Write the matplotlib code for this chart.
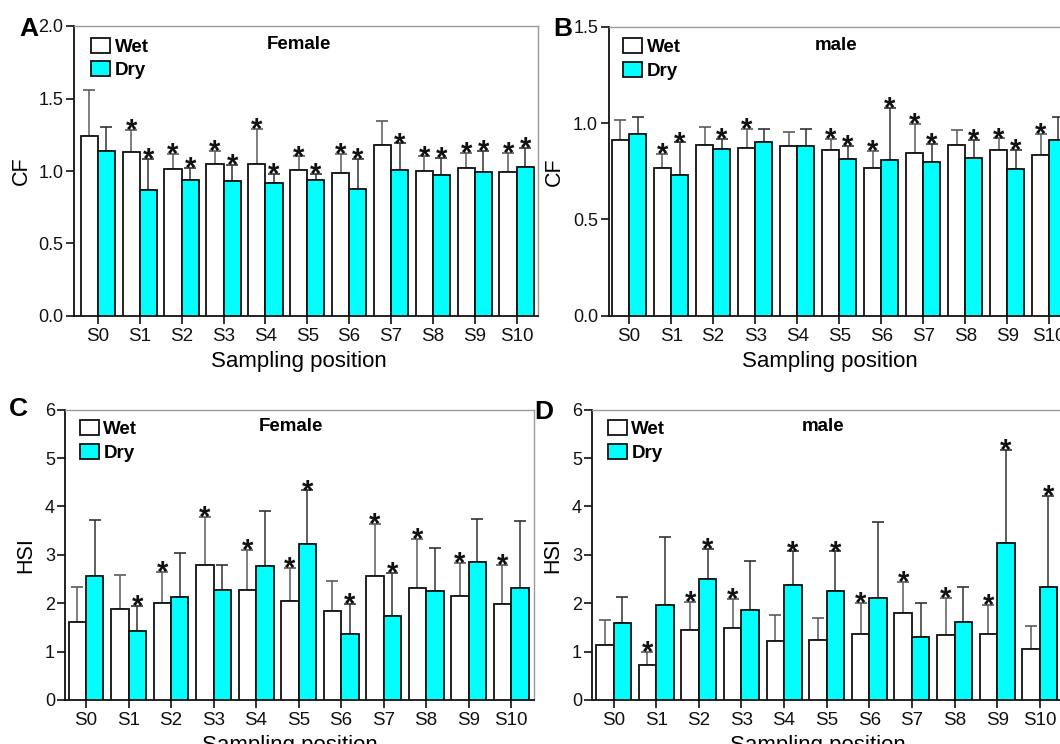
import numpy as np
import matplotlib
matplotlib.use("Agg")
import matplotlib.pyplot as plt

plt.rcParams['font.family'] = ['Liberation Sans', 'DejaVu Sans']

positions = ["S0", "S1", "S2", "S3", "S4", "S5", "S6", "S7", "S8", "S9", "S10"]

# Panel A: CF, female
cf_f_wet = [1.24, 1.13, 1.015, 1.05, 1.05, 1.005, 0.985, 1.18, 1.00, 1.02, 0.996]
cf_f_wet_top = [1.56, 1.28, 1.12, 1.14, 1.29, 1.10, 1.12, 1.345, 1.10, 1.125, 1.125]
cf_f_dry = [1.14, 0.87, 0.94, 0.93, 0.915, 0.937, 0.875, 1.01, 0.97, 0.995, 1.025]
cf_f_dry_top = [1.30, 1.08, 1.02, 1.04, 0.98, 0.98, 1.08, 1.19, 1.09, 1.14, 1.16]
cf_f_wet_sig = [0, 1, 1, 1, 1, 1, 1, 0, 1, 1, 1]
cf_f_dry_sig = [0, 1, 1, 1, 1, 1, 1, 1, 1, 1, 1]

# Panel B: CF, male
cf_m_wet = [0.913, 0.765, 0.885, 0.872, 0.883, 0.86, 0.769, 0.845, 0.886, 0.858, 0.833]
cf_m_wet_top = [1.018, 0.838, 0.981, 0.967, 0.951, 0.917, 0.854, 0.993, 0.965, 0.92, 0.942]
cf_m_dry = [0.943, 0.733, 0.865, 0.904, 0.883, 0.815, 0.808, 0.797, 0.819, 0.762, 0.913]
cf_m_dry_top = [1.03, 0.899, 0.918, 0.967, 0.967, 0.879, 1.079, 0.892, 0.913, 0.86, 1.03]
cf_m_wet_sig = [0, 1, 0, 1, 0, 1, 1, 1, 0, 1, 1]
cf_m_dry_sig = [0, 1, 1, 0, 0, 1, 1, 1, 1, 1, 0]

# Panel C: HSI, female
hsi_f_wet = [1.616, 1.89, 2.0, 2.79, 2.27, 2.04, 1.84, 2.57, 2.31, 2.15, 1.99]
hsi_f_wet_top = [2.33, 2.58, 2.64, 3.79, 3.10, 2.73, 2.46, 3.64, 3.32, 2.84, 2.79]
hsi_f_dry = [2.56, 1.42, 2.12, 2.28, 2.77, 3.23, 1.37, 1.74, 2.25, 2.85, 2.31]
hsi_f_dry_top = [3.71, 1.95, 3.03, 2.79, 3.91, 4.33, 1.98, 2.62, 3.14, 3.74, 3.69]
hsi_f_wet_sig = [0, 0, 1, 1, 1, 1, 0, 1, 1, 1, 1]
hsi_f_dry_sig = [0, 1, 0, 0, 0, 1, 1, 1, 0, 0, 0]

# Panel D: HSI, male
hsi_m_wet = [1.146, 0.72, 1.44, 1.48, 1.21, 1.23, 1.37, 1.79, 1.35, 1.36, 1.05]
hsi_m_wet_top = [1.65, 1.0, 2.03, 2.08, 1.76, 1.70, 2.0, 2.43, 2.10, 1.97, 1.52]
hsi_m_dry = [1.59, 1.97, 2.50, 1.85, 2.38, 2.26, 2.11, 1.30, 1.62, 3.24, 2.34]
hsi_m_dry_top = [2.12, 3.37, 3.13, 2.87, 3.07, 3.07, 3.67, 2.0, 2.33, 5.16, 4.21]
hsi_m_wet_sig = [0, 1, 1, 1, 0, 0, 1, 1, 1, 1, 0]
hsi_m_dry_sig = [0, 0, 1, 0, 1, 1, 0, 0, 0, 1, 1]

W, H = 1060, 744
fig = plt.figure(figsize=(W / 100, H / 100), dpi=100)


def px_axes(left, right, top, bottom):
    return fig.add_axes([left / W, (H - bottom) / H, (right - left) / W, (bottom - top) / H])


DRY = '#00FFFF'
BW = 0.41


def panel(ax, wet, wet_top, dry, dry_top, wet_sig, dry_sig, ylim, yticks, yfmt,
          ylabel, title, xlim, ylab_x, xlab_x, xlab_y, leg_xy, title_xy):
    x = np.arange(len(positions))
    xw = x - BW / 2
    xd = x + BW / 2
    wet = np.array(wet); dry = np.array(dry)
    wet_top = np.array(wet_top); dry_top = np.array(dry_top)
    bw = ax.bar(xw, wet, BW, color='white', edgecolor='#111111', linewidth=1.3,
                zorder=3, label='Wet')
    bd = ax.bar(xd, dry, BW, color=DRY, edgecolor='#111111', linewidth=1.3,
                zorder=3, label='Dry')
    for xs, m, t, c in ((xw, wet, wet_top, '#5a5a5a'), (xd, dry, dry_top, '#333333')):
        ax.errorbar(xs, m, yerr=[np.zeros_like(m), t - m], fmt='none',
                    ecolor=c, elinewidth=1.1, capsize=4.6, capthick=1.2,
                    zorder=2)
    for xs, t, sig in ((xw, wet_top, wet_sig), (xd, dry_top, dry_sig)):
        for xi, ti, s in zip(xs, t, sig):
            if s:
                ax.annotate('*', xy=(xi, ti), xytext=(0, -6.5), textcoords='offset points',
                            ha='center', va='baseline', fontsize=21, fontweight='bold',
                            color='#111111', zorder=4)
    ax.set_xlim(*xlim)
    ax.set_ylim(*ylim)
    ax.set_yticks(yticks)
    ax.set_yticklabels([yfmt.format(v) for v in yticks], fontsize=13)
    ax.set_xticks(x)
    ax.set_xticklabels(positions, fontsize=13.5)
    ax.tick_params(axis='y', direction='out', length=6, width=1.2, pad=1.5, colors='#111111')
    ax.tick_params(axis='x', direction='out', length=6, width=1.2, pad=2.5, colors='#111111')
    for s in ('left', 'bottom'):
        ax.spines[s].set_color('#111111')
        ax.spines[s].set_linewidth(1.3)
    for s in ('top', 'right'):
        ax.spines[s].set_color('#999999')
        ax.spines[s].set_linewidth(1.0)
    ax.set_ylabel(ylabel, fontsize=15.5, va='center')
    ax.yaxis.set_label_coords(ylab_x, 0.5)
    ax.set_xlabel('Sampling position', fontsize=16, va='center')
    ax.xaxis.set_label_coords(xlab_x, xlab_y)
    ax.legend(handles=[bw, bd], loc='upper left', bbox_to_anchor=leg_xy,
              frameon=False, borderpad=0, borderaxespad=0,
              handlelength=1.0, handleheight=0.85, handletextpad=0.25,
              labelspacing=0.3, prop={'size': 13.5, 'weight': 'bold'})
    ax.text(title_xy[0], title_xy[1], title, transform=ax.transAxes, ha='center',
            va='center', fontsize=13.5, fontweight='bold')


# A
axA = px_axes(74, 538, 26, 316)
panel(axA, cf_f_wet, cf_f_wet_top, cf_f_dry, cf_f_dry_top, cf_f_wet_sig, cf_f_dry_sig,
      (0, 2.0), [0, 0.5, 1.0, 1.5, 2.0], '{:.1f}', 'CF', 'Female', (-0.57, 10.51),
      -0.114, 0.485, -0.157, (0.037, 0.96), (0.485, 0.935))
# B
axB = px_axes(608.5, 608.5 + 466, 26.5, 316)
panel(axB, cf_m_wet, cf_m_wet_top, cf_m_dry, cf_m_dry_top, cf_m_wet_sig, cf_m_dry_sig,
      (0, 1.5), [0, 0.5, 1.0, 1.5], '{:.1f}', 'CF', 'male', (-0.49, 10.6),
      -0.117, 0.475, -0.157, (0.032, 0.96), (0.488, 0.935))
# C
axC = px_axes(65.4, 533.7, 409.6, 700)
panel(axC, hsi_f_wet, hsi_f_wet_top, hsi_f_dry, hsi_f_dry_top, hsi_f_wet_sig, hsi_f_dry_sig,
      (0, 6), [0, 1, 2, 3, 4, 5, 6], '{:d}', 'HSI', 'Female', (-0.485, 10.53),
      -0.084, 0.48, -0.155, (0.031, 0.964), (0.482, 0.941))
# D
axD = px_axes(592.3, 592.3 + 473, 409.6, 700)
panel(axD, hsi_m_wet, hsi_m_wet_top, hsi_m_dry, hsi_m_dry_top, hsi_m_wet_sig, hsi_m_dry_sig,
      (0, 6), [0, 1, 2, 3, 4, 5, 6], '{:d}', 'HSI', 'male', (-0.5, 10.6),
      -0.083, 0.477, -0.155, (0.033, 0.964), (0.488, 0.941))

for lab, xp, yp in (('A', 19, 36), ('B', 553, 36), ('C', 9, 416), ('D', 534, 419)):
    fig.text(xp / W, 1 - yp / H, lab, fontsize=19, fontweight='bold', ha='left', va='baseline')

fig.savefig('out.png', dpi=100)
